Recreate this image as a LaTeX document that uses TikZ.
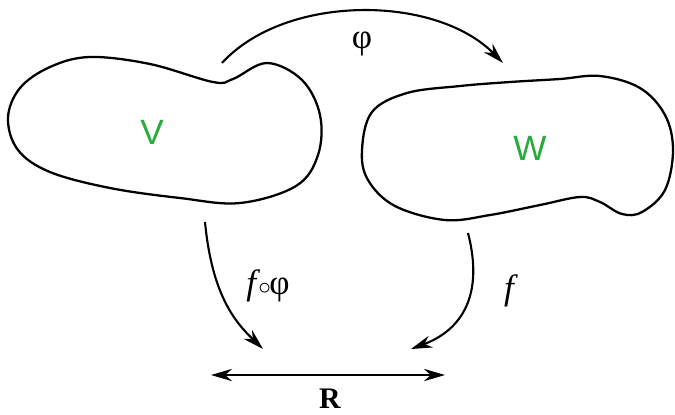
\documentclass[tikz,border=0pt]{standalone}
\usepackage{fontspec}
\usepackage{amsmath}
\usetikzlibrary{arrows.meta}
\setmainfont{Liberation Serif}
\newfontfamily\blobfont{Liberation Sans}
\definecolor{setgreen}{RGB}{40,170,60}

\begin{document}
\begin{tikzpicture}[x=0.02cm, y=-0.02cm,
        blob/.style={line width=1.3pt, tension=0.6},
        map/.style={line width=1.2pt, -{Stealth[length=12pt, width=7pt]}},
        setlabel/.style={font=\blobfont\fontsize{20}{20}\selectfont, text=setgreen},
        maplabel/.style={font=\fontsize{20}{20}\selectfont}]
    \useasboundingbox (0,0) rectangle (675,414);

    % --- The two sets ---
    \draw[blob] plot[smooth cycle] coordinates {
        (8,118) (20,88) (50,67) (90,57) (150,64) (213,82) (233,79) (267,63)
        (302,80) (320,115) (318,155) (296,186) (240,203) (180,198)
        (110,188) (50,172) (18,150)};
    \draw[blob] plot[smooth cycle] coordinates {
        (362,150) (372,112) (407,93) (460,86) (510,82) (560,79) (600,76)
        (640,88) (665,115) (673,150) (665,190) (642,212) (622,214)
        (600,202) (580,197) (540,205) (490,215) (445,220) (395,206)
        (368,180)};
    \node[setlabel] (V) at (152,132) {V};
    \node[setlabel] (W) at (530,148) {W};

    % --- Ends of the maps ---
    \coordinate (phistart) at (222,63);
    \coordinate (phiend) at (503,63);
    \coordinate (leftstart) at (205,222);
    \coordinate (lefttip) at (263,349);
    \coordinate (rightstart) at (468,233);
    \coordinate (righttip) at (411,349);
    \coordinate (Rleft) at (211,375);
    \coordinate (Rright) at (445,375);

    % --- Maps ---
    \draw[map] (phistart) .. controls (285,-6) and (435,-6) .. (phiend);
    \draw[map] (leftstart) .. controls (212,295) and (235,322) .. (lefttip);
    \draw[map] (rightstart) .. controls (484,295) and (462,330) .. (righttip);
    \draw[line width=1.2pt, {Stealth[length=12pt, width=7pt]}-{Stealth[length=12pt, width=7pt]}]
        (Rleft) -- (Rright);

    % --- Labels ---
    \node[maplabel] (philabel) at (362,44) {φ};
    \node[maplabel] (fphilabel) at (268,286) {\textit{f}\kern-1pt$\scriptstyle\circ$\kern-1ptφ};
    \node[maplabel] (flabel) at (511,291) {\textit{f}};
    \node[maplabel, font=\fontsize{17}{17}\selectfont] (Rlabel) at (330,399) {\textbf{R}};
\end{tikzpicture}
\end{document}
